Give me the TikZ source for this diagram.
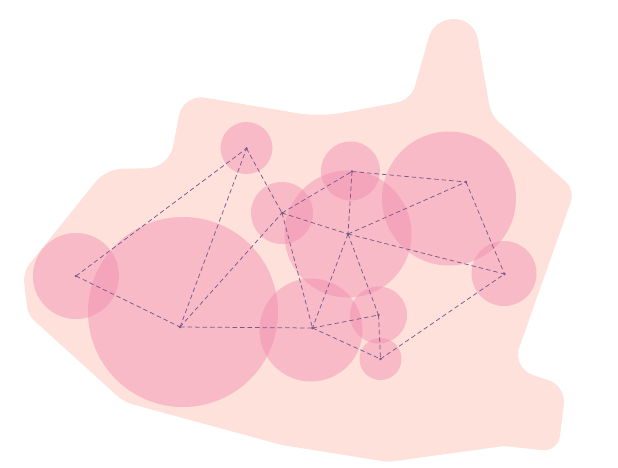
\documentclass[tikz,border=0pt]{standalone}
\definecolor{blobc}{RGB}{253,225,218}
\definecolor{bubc}{RGB}{242,140,175}
\definecolor{edgec}{RGB}{122,90,142}
\tikzset{
  bubble/.style={fill=bubc, fill opacity=0.45},
  link/.style={draw=edgec, line width=0.75pt, dash pattern=on 4.5pt off 3pt},
  dot/.style={circle, fill=edgec, inner sep=0pt, minimum size=2.8pt}
}
\begin{document}
\begin{tikzpicture}[x=1pt,y=-1pt]
\useasboundingbox (0,0) rectangle (618,468);
% background blob
\fill[blobc] (320,117) [rounded corners=14pt] -- (411,100) [sharp corners] -- (428,40)
  .. controls (434,12) and (474,12) .. (478,40)
  [rounded corners=10pt] -- (491,115) [rounded corners=12pt] -- (575,190)
  [rounded corners=22pt] -- (512,368) [rounded corners=18pt] -- (566,386)
  [rounded corners=16pt] -- (558,452) [rounded corners=4pt] -- (504,446)
  -- (388,462) -- (282,445) [rounded corners=8pt] -- (124,402)
  -- (28,315) [rounded corners=10pt] -- (23,272) [rounded corners=16pt] -- (106,169)
  [rounded corners=22pt] -- (169,168) -- (183,94) -- cycle;
% bubbles
\fill[bubble] (76,276) circle (43);
\fill[bubble] (183,312) circle (95);
\fill[bubble] (246.5,148) circle (26);
\fill[bubble] (282,213) circle (31);
\fill[bubble] (350.5,171) circle (29.5);
\fill[bubble] (348,234) circle (63.5);
\fill[bubble] (449,198.5) circle (67);
\fill[bubble] (504,273.5) circle (32.5);
\fill[bubble] (311,330) circle (51.5);
\fill[bubble] (378.5,315) circle (28.5);
\fill[bubble] (380.5,359) circle (21);
% points
\node[dot] (p1) at (76,276) {};
\node[dot] (p2) at (180,327) {};
\node[dot] (p3) at (246.5,148.5) {};
\node[dot] (p4) at (282,213) {};
\node[dot] (p5) at (352,171.5) {};
\node[dot] (p6) at (348,234) {};
\node[dot] (p7) at (466,182) {};
\node[dot] (p8) at (504.5,274) {};
\node[dot] (p9) at (312.5,328) {};
\node[dot] (p10) at (378.5,315) {};
\node[dot] (p11) at (380.5,359) {};
% links
\draw[link] (p1.center) -- (p3.center);
\draw[link] (p1.center) -- (p2.center);
\draw[link] (p2.center) -- (p3.center);
\draw[link] (p2.center) -- (p4.center);
\draw[link] (p2.center) -- (p9.center);
\draw[link] (p3.center) -- (p4.center);
\draw[link] (p4.center) -- (p9.center);
\draw[link] (p4.center) -- (p5.center);
\draw[link] (p4.center) -- (p6.center);
\draw[link] (p5.center) -- (p6.center);
\draw[link] (p5.center) -- (p7.center);
\draw[link] (p6.center) -- (p7.center);
\draw[link] (p6.center) -- (p8.center);
\draw[link] (p6.center) -- (p9.center);
\draw[link] (p6.center) -- (p10.center);
\draw[link] (p7.center) -- (p8.center);
\draw[link] (p9.center) -- (p10.center);
\draw[link] (p9.center) -- (p11.center);
\draw[link] (p10.center) -- (p11.center);
\draw[link] (p11.center) -- (p8.center);
\end{tikzpicture}
\end{document}
